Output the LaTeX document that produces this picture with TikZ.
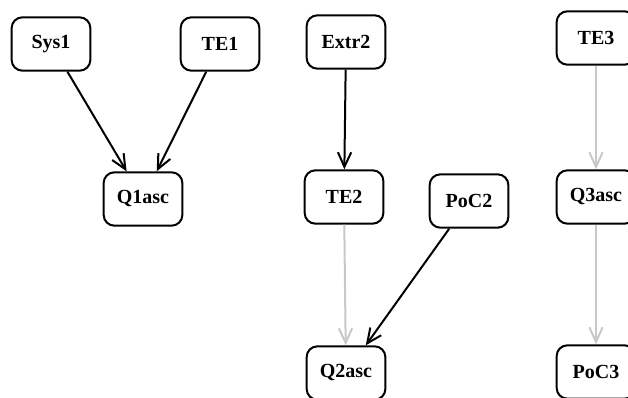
\documentclass[tikz,border=0pt]{standalone}
\usepackage{fontspec}
\setmainfont{Liberation Serif}
\usetikzlibrary{arrows.meta}

\tikzset{every picture/.style={line width=1.5pt}}
\tikzset{
  box/.style={draw, rounded corners=8pt, minimum width=59pt, minimum height=40pt, inner sep=0pt, font=\fontsize{15}{17}\selectfont\bfseries},
  blackedge/.style={-{Straight Barb[length=11pt,width=10pt]}, draw=black},
  grayedge/.style={-{Straight Barb[length=11pt,width=10pt]}, draw={rgb,255:red,200;green,200;blue,200}}
}

\begin{document}
\begin{tikzpicture}[x=0.75pt,y=0.75pt,yscale=-1,xscale=1]
%set diagram left start at 0, and has height of 398
\clip (0,0) rectangle (628,398);

% Nodes
\node[box] (sys1) at (51,44) {Sys1};
\node[box] (te1) at (220,44) {TE1};
\node[box] (q1asc) at (143,199) {Q1asc};
\node[box] (extr2) at (346,42) {Extr2};
\node[box] (te2) at (344,197) {TE2};
\node[box] (poc2) at (469,201) {PoC2};
\node[box] (q2asc) at (346,373) {Q2asc};
\node[box] (te3) at (596,38) {TE3};
\node[box] (q3asc) at (596,197) {Q3asc};
\node[box] (poc3) at (596,372) {PoC3};

% Edges
\draw[blackedge] (sys1) -- (q1asc);
\draw[blackedge] (te1) -- (q1asc);
\draw[blackedge] (extr2) -- (te2);
\draw[grayedge] (te2) -- (q2asc);
\draw[blackedge] (poc2) -- (q2asc);
\draw[grayedge] (te3) -- (q3asc);
\draw[grayedge] (q3asc) -- (poc3);

\end{tikzpicture}
\end{document}
